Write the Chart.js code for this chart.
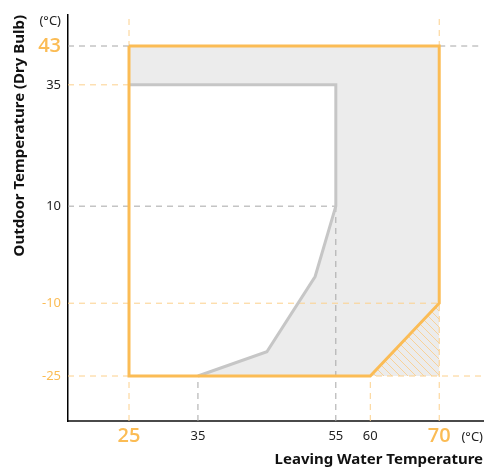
<!DOCTYPE html>
<html><head><meta charset="utf-8">
<script src="https://cdn.jsdelivr.net/npm/chart.js@4/dist/chart.umd.min.js"></script>
<style>html,body{margin:0;padding:0;background:#fff}</style>
</head><body>
<canvas id="c" width="485" height="469"></canvas>
<script>
// ---- data ----
const xTicks = [25, 35, 55, 60, 70];
const yTicks = [43, 35, 10, -10, -25];
const bigTicksX = [25, 70];
const bigTicksY = [43];
const orangeTicksY = [-10, -25];
const outerX = [25, 70, 70, 60, 25, 25];
const outerY = [43, 43, -10, -25, -25, 43];
const innerX = [25, 55, 55, 52, 45, 35, 25, 25];
const innerY = [35, 35, 10, -4.5, -20, -25, -25, 35];
const innerLineX = [25, 55, 55, 52, 45, 35];
const innerLineY = [35, 35, 10, -4.5, -20, -25];
const hatchX = [60, 70, 70, 60];
const hatchY = [-25, -10, -25, -25];
const X_MIN = 16.15, X_MAX = 76.35, Y_MIN = -34.27, Y_MAX = 49.39;
const guidesGray = [
  [X_MIN, 43, 25, 43], [70, 43, X_MAX, 43], [X_MIN, 10, 55, 10],
  [35, Y_MIN, 35, -25], [55, Y_MIN, 55, 10]
];
const guidesOrange = [
  [X_MIN, 35, 25, 35], [X_MIN, -10, 70, -10], [X_MIN, -25, X_MAX, -25],
  [25, Y_MIN, 25, Y_MAX], [60, Y_MIN, 60, -25], [70, Y_MIN, 70, Y_MAX]
];

const ORANGE = '#fbbc55', ORANGE_LIGHT = '#fcd08c', GRAY_FILL = '#ececec',
      GRAY_LINE = '#c6c6c6', GRAY_DASH = '#a6a6a6', DARK = '#222222';
const FONT = "'Noto Sans', 'Open Sans', sans-serif";
const BIG_FONT = "'Open Sans', 'Noto Sans', sans-serif";

const pts = (xs, ys) => xs.map((x, i) => ({x, y: ys[i]}));
const tv = c => (c && c.tick) ? c.tick.value : null;

// hatch pattern
const pc = document.createElement('canvas');
pc.width = 8; pc.height = 8;
const g = pc.getContext('2d');
g.fillStyle = GRAY_FILL; g.fillRect(0, 0, 8, 8);
g.strokeStyle = '#f8d29a'; g.lineWidth = 1;
g.beginPath();
g.moveTo(-1, -1); g.lineTo(9, 9);
g.moveTo(-1, 7); g.lineTo(1, 9);
g.moveTo(7, -1); g.lineTo(9, 1);
g.stroke();
const hatch = g.createPattern(pc, 'repeat');

const datasets = [
  {data: pts(outerX, outerY), showLine: true, fill: 'shape', backgroundColor: GRAY_FILL, borderWidth: 0, pointRadius: 0, order: 10},
  {data: pts(innerX, innerY), showLine: true, fill: 'shape', backgroundColor: '#ffffff', borderWidth: 0, pointRadius: 0, order: 9},
  {data: pts(hatchX, hatchY), showLine: true, fill: 'shape', backgroundColor: hatch, borderWidth: 0, pointRadius: 0, order: 8},
];
guidesGray.forEach(s => datasets.push({data: [{x: s[0], y: s[1]}, {x: s[2], y: s[3]}], showLine: true, fill: false, borderColor: GRAY_DASH, borderWidth: 1, borderDash: [6, 5], pointRadius: 0, order: 5}));
guidesOrange.forEach(s => datasets.push({data: [{x: s[0], y: s[1]}, {x: s[2], y: s[3]}], showLine: true, fill: false, borderColor: ORANGE_LIGHT, borderWidth: 1, borderDash: [6, 5], pointRadius: 0, order: 5}));
datasets.push({data: pts(innerLineX, innerLineY), showLine: true, fill: false, borderColor: GRAY_LINE, borderWidth: 3, borderJoinStyle: 'miter', pointRadius: 0, order: 2});
datasets.push({data: pts(outerX, outerY), showLine: true, fill: false, borderColor: ORANGE, borderWidth: 3, borderJoinStyle: 'miter', pointRadius: 0, order: 1});

const unitLabels = {
  id: 'unitLabels',
  afterDraw(chart) {
    const c = chart.ctx, xs = chart.scales.x, ys = chart.scales.y;
    c.save();
    c.font = "13px " + FONT; c.fillStyle = DARK; c.textBaseline = 'middle';
    c.textAlign = 'right';
    c.fillText('(°C)', ys.right - 7, ys.top + 6);
    c.fillText('(°C)', xs.right, xs.top + 16);
    c.restore();
  }
};

new Chart(document.getElementById('c'), {
  type: 'scatter',
  data: {datasets},
  plugins: [unitLabels],
  options: {
    responsive: false, animation: false, devicePixelRatio: 1,
    layout: {padding: {top: 15, right: 2, left: 0, bottom: 0}},
    plugins: {legend: {display: false}, tooltip: {enabled: false}, filler: {drawTime: 'beforeDatasetsDraw'}},
    scales: {
      x: {
        type: 'linear', min: X_MIN, max: X_MAX,
        grid: {display: false, drawTicks: false},
        border: {display: true, color: '#4a4a4a', width: 2},
        afterBuildTicks: s => { s.ticks = xTicks.map(v => ({value: v})); },
        afterFit: s => { s.height = 48; },
        ticks: {
          autoSkip: false, maxRotation: 0, padding: 7, crossAlign: 'near',
          callback: v => String(v),
          color: c => bigTicksX.includes(tv(c)) ? ORANGE : DARK,
          font: c => bigTicksX.includes(tv(c)) ? {size: 20, weight: 600, family: BIG_FONT, lineHeight: '16px'} : {size: 13, family: FONT, lineHeight: '16px'}
        },
        title: {display: true, text: 'Leaving Water Temperature', align: 'end', color: '#111', padding: {top: 0, bottom: 0}, font: {size: 15, weight: 'bold', family: FONT}}
      },
      y: {
        type: 'linear', min: Y_MIN, max: Y_MAX,
        grid: {display: false, drawTicks: false},
        border: {display: true, color: '#000', width: 1.5},
        afterBuildTicks: s => { s.ticks = yTicks.map(v => ({value: v})); },
        afterFit: s => { s.width = 68; },
        ticks: {
          autoSkip: false, padding: 7,
          callback: v => String(v),
          color: c => (bigTicksY.includes(tv(c)) || orangeTicksY.includes(tv(c))) ? ORANGE : DARK,
          font: c => bigTicksY.includes(tv(c)) ? {size: 20, weight: 600, family: BIG_FONT} : {size: 13, family: FONT}
        },
        title: {display: true, text: 'Outdoor Temperature (Dry Bulb)', align: 'end', color: '#111', padding: {top: 11, bottom: 0}, font: {size: 15, weight: 'bold', family: FONT}}
      }
    }
  }
});
</script>
</body></html>
